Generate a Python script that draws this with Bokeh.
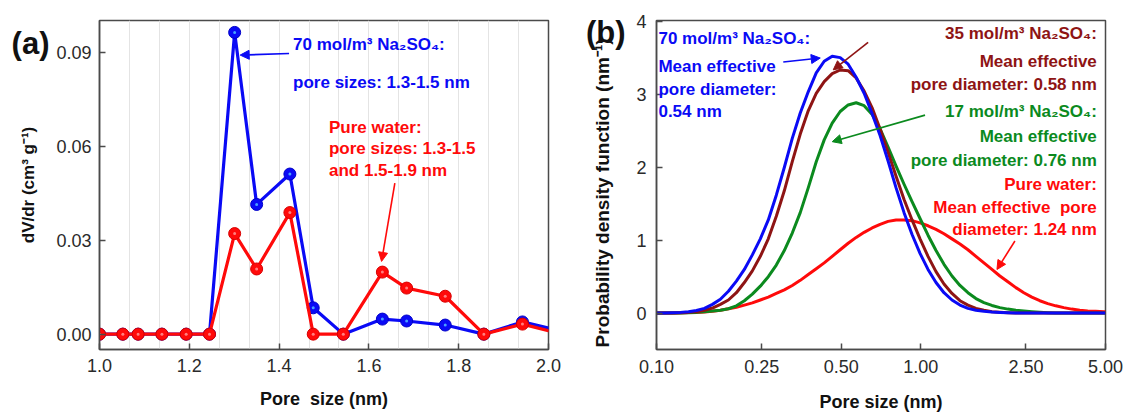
from bokeh.plotting import figure
from bokeh.models import (Range1d, FixedTicker, PrintfTickFormatter, Label, Arrow,
                          NormalHead, ColumnDataSource, LinearAxis)
from bokeh.layouts import row
from bokeh.embed import file_html
from bokeh.resources import INLINE

# ---------------- data: panel (a) ----------------
pore_a = [1.0, 1.052, 1.086, 1.139, 1.193, 1.245, 1.301, 1.350, 1.424, 1.476,
          1.543, 1.630, 1.684, 1.770, 1.856, 1.942, 2.03]
dvdr_water = [0, 0, 0, 0, 0, 0, 0.0321, 0.0208, 0.0388, 0, 0, 0.0198, 0.0147,
              0.0121, 0, 0.0032, 0.0]
dvdr_na70 = [0, 0, 0, 0, 0, 0, 0.0963, 0.0414, 0.0511, 0.0084, 0, 0.0048, 0.0042,
             0.0029, 0, 0.0039, 0.0009]
xticks_a = [1.0, 1.2, 1.4, 1.6, 1.8, 2.0]
yticks_a = [0.0, 0.03, 0.06, 0.09]

# ---------------- data: panel (b) ----------------
pore_b = [0.1000, 0.1072, 0.1149, 0.1232, 0.1321, 0.1416, 0.1518, 0.1628, 0.1745, 0.1871,
          0.2006, 0.2150, 0.2305, 0.2471, 0.2649, 0.2840, 0.3045, 0.3264, 0.3499, 0.3751,
          0.4022, 0.4311, 0.4622, 0.4955, 0.5312, 0.5695, 0.6105, 0.6545, 0.7016, 0.7522,
          0.8064, 0.8645, 0.9268, 0.9935, 1.0651, 1.1419, 1.2241, 1.3123, 1.4069, 1.5082,
          1.6169, 1.7334, 1.8583, 1.9922, 2.1357, 2.2896, 2.4545, 2.6314, 2.8210, 3.0242,
          3.2421, 3.4757, 3.7261, 3.9946, 4.2824, 4.5909, 4.9217, 5.0]
pdf_na70 = [0.0, 0.0, 0.005, 0.01, 0.02, 0.035, 0.065, 0.12, 0.19, 0.30,
            0.44, 0.60, 0.80, 1.02, 1.28, 1.62, 2.00, 2.40, 2.75, 3.04,
            3.30, 3.46, 3.53, 3.51, 3.42, 3.24, 3.02, 2.74, 2.44, 2.09,
            1.72, 1.38, 1.08, 0.82, 0.60, 0.42, 0.28, 0.18, 0.11, 0.065,
            0.04, 0.025, 0.015, 0.01, 0.005, 0.0, 0.0, 0.0, 0.0, 0.0,
            0.0, 0.0, 0.0, 0.0, 0.0, 0.0, 0.0, 0.0]
pdf_na35 = [0.0, 0.0, 0.0, 0.005, 0.01, 0.02, 0.04, 0.07, 0.12, 0.18,
            0.28, 0.42, 0.58, 0.78, 1.02, 1.33, 1.68, 2.08, 2.46, 2.78,
            3.02, 3.18, 3.29, 3.34, 3.33, 3.23, 3.05, 2.82, 2.53, 2.21,
            1.88, 1.56, 1.28, 1.02, 0.78, 0.57, 0.40, 0.27, 0.17, 0.11,
            0.065, 0.04, 0.02, 0.012, 0.006, 0.0, 0.0, 0.0, 0.0, 0.0,
            0.0, 0.0, 0.0, 0.0, 0.0, 0.0, 0.0, 0.0]
pdf_na17 = [0.0, 0.0, 0.0, 0.003, 0.006, 0.01, 0.02, 0.03, 0.04, 0.06,
            0.10, 0.17, 0.26, 0.37, 0.50, 0.66, 0.86, 1.10, 1.38, 1.72,
            2.08, 2.38, 2.61, 2.77, 2.86, 2.89, 2.85, 2.73, 2.53, 2.28,
            2.02, 1.77, 1.53, 1.30, 1.07, 0.86, 0.67, 0.51, 0.38, 0.28,
            0.20, 0.145, 0.105, 0.075, 0.055, 0.04, 0.03, 0.02, 0.012, 0.006,
            0.0, 0.0, 0.0, 0.0, 0.0, 0.0, 0.0, 0.0]
pdf_water = [0.0, 0.0, 0.003, 0.005, 0.008, 0.01, 0.015, 0.025, 0.04, 0.06,
             0.08, 0.11, 0.14, 0.18, 0.22, 0.27, 0.32, 0.38, 0.45, 0.53,
             0.61, 0.69, 0.78, 0.87, 0.96, 1.04, 1.11, 1.17, 1.22, 1.26,
             1.28, 1.28, 1.27, 1.24, 1.20, 1.15, 1.09, 1.02, 0.95, 0.87,
             0.78, 0.69, 0.60, 0.51, 0.43, 0.35, 0.28, 0.22, 0.17, 0.13,
             0.10, 0.075, 0.055, 0.04, 0.03, 0.025, 0.02, 0.02]
xticks_b = [0.10, 0.25, 0.50, 1.00, 2.50, 5.00]
yticks_b = [0, 1, 2, 3, 4]

FONT = "Liberation Sans"
BLUE = "#0a0af5"
RED = "#ff0a0a"
GREEN = "#0b8a1e"
BROWN = "#8e1414"
AXC = "#4a4a4a"
TXC = "#2a2a2a"
NBSP = "\u00a0"


def style_axes(p, xstand, xlab_stand, ystand):
    p.outline_line_color = AXC
    p.outline_line_width = 1.5
    for ax in (p.xaxis[0], p.yaxis[0]):
        ax.axis_line_color = AXC
        ax.axis_line_width = 1.5
        ax.major_tick_line_color = AXC
        ax.major_tick_line_width = 1.5
        ax.major_tick_in = 6
        ax.major_tick_out = 0
        ax.minor_tick_line_color = None
        ax.minor_tick_in = 0
        ax.minor_tick_out = 0
        ax.major_label_text_font = FONT
        ax.major_label_text_font_size = "18px"
        ax.major_label_text_color = TXC
        ax.axis_label_text_font = FONT
        ax.axis_label_text_font_style = "bold"
        ax.axis_label_text_color = "#111111"
    p.xaxis[0].major_label_standoff = xstand
    p.xaxis[0].axis_label_standoff = xlab_stand
    p.xaxis[0].axis_label_text_font_size = "18px"
    p.yaxis[0].major_label_standoff = ystand


def tag_axis(p, ypos, tag, tag_standoff, label, label_size, label_standoff):
    """Outer left axis: carries the panel tag as its only tick label and the y title."""
    ax = LinearAxis(ticker=FixedTicker(ticks=[ypos]),
                    formatter=PrintfTickFormatter(format=tag),
                    major_label_overrides={ypos: tag})
    ax.axis_line_color = None
    ax.major_tick_line_color = None
    ax.minor_tick_line_color = None
    ax.major_tick_in = 0
    ax.major_tick_out = 0
    ax.minor_tick_in = 0
    ax.minor_tick_out = 0
    ax.major_label_text_font = FONT
    ax.major_label_text_font_size = "31px"
    ax.major_label_text_font_style = "bold"
    ax.major_label_text_color = "#111111"
    ax.major_label_standoff = tag_standoff
    ax.axis_label = label
    ax.axis_label_text_font = FONT
    ax.axis_label_text_font_style = "bold"
    ax.axis_label_text_font_size = label_size
    ax.axis_label_text_color = "#111111"
    ax.axis_label_standoff = label_standoff
    p.add_layout(ax, "left")


def lab(p, x, y, text, color, size="17px", align="left"):
    p.add_layout(Label(x=x, y=y, text=text, text_color=color, text_font=FONT,
                       text_font_size=size, text_font_style="bold",
                       text_align=align, text_baseline="middle"))


def arr(p, xs, ys, xe, ye, color):
    p.add_layout(Arrow(end=NormalHead(size=9, fill_color=color, line_color=color),
                       x_start=xs, y_start=ys, x_end=xe, y_end=ye,
                       line_color=color, line_width=1.6))


# ---------------- panel (a) ----------------
pa = figure(width=565, height=414, output_backend="svg", toolbar_location=None,
            x_range=Range1d(1.0, 2.0), y_range=Range1d(-0.0049, 0.1001),
            min_border_left=99, min_border_right=17, min_border_top=14,
            min_border_bottom=64, background_fill_color="white",
            border_fill_color="white")
pa.xaxis.ticker = FixedTicker(ticks=xticks_a)
pa.yaxis.ticker = FixedTicker(ticks=yticks_a)
pa.xaxis.formatter = PrintfTickFormatter(format="%.1f")
pa.yaxis.formatter = PrintfTickFormatter(format="%.2f")
pa.xaxis.axis_label = "Pore" + NBSP + " size (nm)"
style_axes(pa, 9, 14, 8)
tag_axis(pa, 0.0929, "(a)", 4, "dV/dr (cm³ g⁻¹)", "17px", -29)
pa.xgrid.ticker = FixedTicker(ticks=[1 + k / 15 for k in range(1, 15)])
pa.xgrid.grid_line_color = "#e4e4e4"
pa.xgrid.grid_line_width = 1
pa.ygrid.grid_line_color = None

src_b = ColumnDataSource(dict(x=pore_a, y=dvdr_na70))
src_r = ColumnDataSource(dict(x=pore_a, y=dvdr_water))
pa.line("x", "y", source=src_b, line_color=BLUE, line_width=3.2, line_join="round")
pa.scatter("x", "y", source=src_b, size=12, fill_color=BLUE, line_color="#0000c8",
           line_width=1)
pa.scatter("x", "y", source=src_b, size=3, fill_color="#4aa0ff", line_color=None)
pa.line("x", "y", source=src_r, line_color=RED, line_width=3.2, line_join="round")
pa.scatter("x", "y", source=src_r, size=12, fill_color=RED, line_color="#d80000",
           line_width=1)
pa.scatter("x", "y", source=src_r, size=3, fill_color="#ff8080", line_color=None)

lab(pa, 1.4311, 0.0926, "70 mol/m³ Na₂SO₄:", BLUE)
lab(pa, 1.4311, 0.0804, "pore sizes: 1.3-1.5 nm", BLUE)
lab(pa, 1.5111, 0.0660, "Pure water:", RED)
lab(pa, 1.5111, 0.0592, "pore sizes: 1.3-1.5", RED)
lab(pa, 1.5111, 0.0523, "and 1.5-1.9 nm", RED)
arr(pa, 1.4222, 0.08956, 1.3133, 0.08906, BLUE)
arr(pa, 1.6578, 0.04822, 1.6282, 0.02322, RED)

# ---------------- panel (b) ----------------
pb = figure(width=560, height=414, output_backend="svg", toolbar_location=None,
            x_axis_type="log", x_range=Range1d(0.1, 5.0), y_range=Range1d(-0.5, 4.02),
            min_border_left=91, min_border_right=20, min_border_top=20,
            min_border_bottom=60, background_fill_color="white",
            border_fill_color="white")
pb.xaxis.ticker = FixedTicker(ticks=xticks_b)
pb.yaxis.ticker = FixedTicker(ticks=yticks_b)
pb.xaxis.formatter = PrintfTickFormatter(format="%.2f")
pb.xaxis.axis_label = "Pore size (nm)"
style_axes(pb, 10, 16, 10)
tag_axis(pb, 3.855, "(b)", 8, "Probability density function (nm⁻¹)" + NBSP * 3,
         "19px", -30)
pb.xgrid.grid_line_color = None
pb.ygrid.grid_line_color = None

pb.line(pore_b, pdf_water, line_color=RED, line_width=3, line_join="round")
pb.line(pore_b, pdf_na17, line_color=GREEN, line_width=3, line_join="round")
pb.line(pore_b, pdf_na35, line_color=BROWN, line_width=3, line_join="round")
pb.line(pore_b, pdf_na70, line_color=BLUE, line_width=3, line_join="round")

lab(pb, 0.1017, 3.774, "70 mol/m³ Na₂SO₄:", BLUE)
lab(pb, 0.1017, 3.382, "Mean effective", BLUE)
lab(pb, 0.1017, 3.072, "pore diameter:", BLUE)
lab(pb, 0.1017, 2.774, "0.54 nm", BLUE)
lab(pb, 4.635, 3.842, "35 mol/m³ Na₂SO₄:", BROWN, align="right")
lab(pb, 4.635, 3.450, "Mean effective", BROWN, align="right")
lab(pb, 4.635, 3.139, "pore diameter: 0.58 nm", BROWN, align="right")
lab(pb, 4.635, 2.774, "17 mol/m³ Na₂SO₄:", GREEN, align="right")
lab(pb, 4.635, 2.422, "Mean effective", GREEN, align="right")
lab(pb, 4.635, 2.099, "pore diameter: 0.76 nm", GREEN, align="right")
lab(pb, 4.635, 1.761, "Pure water:", RED, align="right")
lab(pb, 4.635, 1.450, "Mean effective" + NBSP + " pore", RED, align="right")
lab(pb, 4.635, 1.153, "diameter: 1.24 nm", RED, align="right")
arr(pb, 0.3018, 3.450, 0.4165, 3.504, BLUE)
arr(pb, 0.632, 3.720, 0.4664, 3.342, BROWN)
arr(pb, 1.038, 2.720, 0.4623, 2.355, GREEN)
arr(pb, 2.271, 0.991, 1.942, 0.599, RED)

layout = row(pa, pb)
open("out.html", "w").write(file_html(layout, INLINE))
